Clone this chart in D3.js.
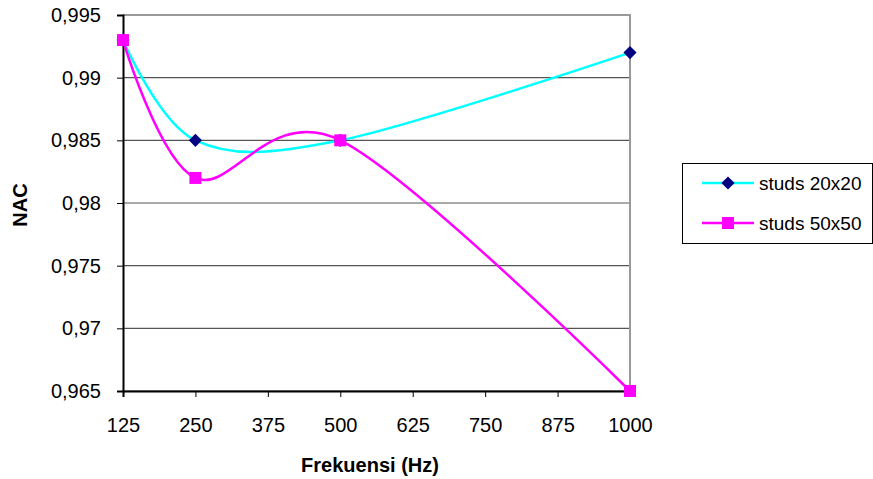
<!DOCTYPE html>
<html>
<head>
<meta charset="utf-8">
<script src="https://cdn.jsdelivr.net/npm/d3@7"></script>
<style>
  body { margin: 0; background: #fff; }
  text { font-family: "Liberation Sans", Arial, sans-serif; }
</style>
</head>
<body>
<div id="chart"></div>
<script>
// NAC vs frequency, two stud sizes

// Data
var freqs = [125, 250, 500, 1000];
var studs20 = [0.993, 0.985, 0.985, 0.992];
var studs50 = [0.993, 0.982, 0.985, 0.965];
var seriesNames = ["studs 20x20", "studs 50x50"];
var xTicks = [125, 250, 375, 500, 625, 750, 875, 1000];
var yTicks = [0.965, 0.97, 0.975, 0.98, 0.985, 0.99, 0.995];

var width = 873;
var height = 479;

// Plot box edges
var plotLeft = 123;
var plotRight = 630;
var plotTop = 15;
var plotBottom = 391;

var svg = d3
  .select("#chart")
  .append("svg")
  .attr("width", width)
  .attr("height", height);

var xScale = d3.scaleLinear().domain([125, 1000]).range([plotLeft, plotRight]);
var yScale = d3.scaleLinear().domain([0.965, 0.995]).range([plotBottom, plotTop]);

var fmt = function(d) {
  return String(d).replace(".", ",");
};

// Horizontal grid lines
svg
  .append("g")
  .selectAll("line")
  .data(yTicks)
  .enter()
  .append("line")
  .attr("x1", plotLeft)
  .attr("x2", plotRight)
  .attr("y1", function(d) { return yScale(d); })
  .attr("y2", function(d) { return yScale(d); })
  .attr("stroke", "#555")
  .attr("stroke-width", 1.2);

// Gray frame at top and right
svg
  .append("path")
  .attr("d", "M" + plotLeft + "," + plotTop + "H" + plotRight + "V" + plotBottom)
  .attr("fill", "none")
  .attr("stroke", "#999")
  .attr("stroke-width", 2);

// Axes
var xAxis = d3.axisBottom(xScale).tickValues(xTicks).tickFormat(d3.format("d")).tickSize(6).tickPadding(16);
var yAxis = d3.axisLeft(yScale).tickValues(yTicks).tickFormat(fmt).tickSize(6).tickPadding(16);

var gx = svg
  .append("g")
  .attr("transform", "translate(0," + plotBottom + ")")
  .call(xAxis);
var gy = svg
  .append("g")
  .attr("transform", "translate(" + plotLeft + ",0)")
  .call(yAxis);

[gx, gy].forEach(function(g) {
  g.select(".domain").attr("stroke", "#000").attr("stroke-width", 2);
  g.selectAll(".tick line").attr("stroke", "#000");
  g.selectAll(".tick text")
    .attr("fill", "#000")
    .style("font-size", "20px")
    .style("font-family", "Liberation Sans, Arial, sans-serif");
});
gx.selectAll(".tick text").attr("dy", "0.95em");

// Axis titles
svg
  .append("text")
  .attr("x", 370)
  .attr("y", 472)
  .attr("text-anchor", "middle")
  .style("font-size", "20px")
  .style("font-weight", "bold")
  .text("Frekuensi (Hz)");

svg
  .append("text")
  .attr("transform", "translate(27,205) rotate(-90)")
  .attr("text-anchor", "middle")
  .style("font-size", "20px")
  .style("font-weight", "bold")
  .text("NAC");

// Smoothed lines like the spreadsheet
var line = d3
  .line()
  .x(function(d) { return xScale(d[0]); })
  .y(function(d) { return yScale(d[1]); })
  .curve(d3.curveCardinal.tension(0));

var pts20 = freqs.map(function(f, i) { return [f, studs20[i]]; });
var pts50 = freqs.map(function(f, i) { return [f, studs50[i]]; });

svg
  .append("path")
  .datum(pts20)
  .attr("d", line)
  .attr("fill", "none")
  .attr("stroke", "#00ffff")
  .attr("stroke-width", 2.5);

svg
  .append("g")
  .selectAll("path")
  .data(pts20)
  .enter()
  .append("path")
  .attr("d", d3.symbol().type(d3.symbolDiamond2).size(110))
  .attr("transform", function(d) {
    return "translate(" + xScale(d[0]) + "," + yScale(d[1]) + ")";
  })
  .attr("fill", "#000080");

svg
  .append("path")
  .datum(pts50)
  .attr("d", line)
  .attr("fill", "none")
  .attr("stroke", "#ff00ff")
  .attr("stroke-width", 2.5);

svg
  .append("g")
  .selectAll("rect")
  .data(pts50)
  .enter()
  .append("rect")
  .attr("x", function(d) { return xScale(d[0]) - 6; })
  .attr("y", function(d) { return yScale(d[1]) - 6; })
  .attr("width", 12)
  .attr("height", 12)
  .attr("fill", "#ff00ff");

// Legend
var legend = svg.append("g");
legend
  .append("rect")
  .attr("x", 682.5)
  .attr("y", 163.5)
  .attr("width", 190)
  .attr("height", 80)
  .attr("fill", "#fff")
  .attr("stroke", "#000")
  .attr("stroke-width", 1);

var legColors = ["#00ffff", "#ff00ff"];
seriesNames.forEach(function(name, i) {
  var y = 183 + i * 40;
  legend
    .append("line")
    .attr("x1", 702)
    .attr("x2", 754)
    .attr("y1", y)
    .attr("y2", y)
    .attr("stroke", legColors[i])
    .attr("stroke-width", 2.5);
  if (i === 0) {
    legend
      .append("path")
      .attr("d", d3.symbol().type(d3.symbolDiamond2).size(110))
      .attr("transform", "translate(728," + y + ")")
      .attr("fill", "#000080");
  } else {
    legend
      .append("rect")
      .attr("x", 722)
      .attr("y", y - 6)
      .attr("width", 12)
      .attr("height", 12)
      .attr("fill", "#ff00ff");
  }
  legend
    .append("text")
    .attr("x", 759)
    .attr("y", y)
    .attr("dy", "0.35em")
    .style("font-size", "19px")
    .text(name);
});
</script>
</body>
</html>
